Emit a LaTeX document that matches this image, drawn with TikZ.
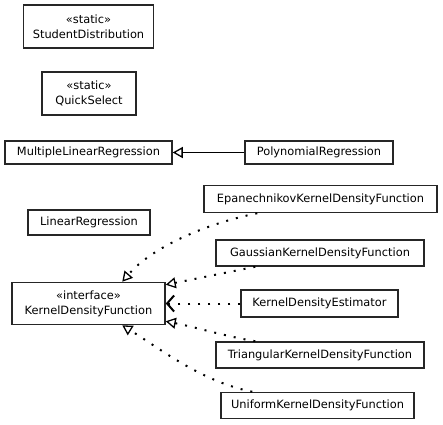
\documentclass[tikz,border=0pt]{standalone}
\usepackage{fontspec}
\setmainfont{DejaVu Sans}
\usetikzlibrary{arrows.meta,calc}
\begin{document}
\begin{tikzpicture}[x=1pt,y=-1pt,
  box/.style={draw=black!85,line width=1.5pt,rectangle,inner sep=0pt,align=center,
    font=\fontsize{11.4}{15}\selectfont},
  gen/.style={line width=1.6pt,-{Triangle[open,length=10pt,width=11pt,line width=1.3pt]}},
  real/.style={gen,line width=2pt,dash pattern=on 2pt off 8pt},
  dep/.style={line width=2pt,dash pattern=on 2pt off 8pt,-{Straight Barb[length=7pt,width=16pt,line width=2pt]}}]
\useasboundingbox (0,0) rectangle (443,424);
\node[box,minimum width=130pt,minimum height=43pt] (sd) at (88.5,26.5) {«static»\\StudentDistribution};
\node[box,minimum width=94pt,minimum height=43pt] (qs) at (89,93.5) {«static»\\QuickSelect};
\node[box,minimum width=167pt,minimum height=23pt] (mlr) at (88.5,152.5) {MultipleLinearRegression};
\node[box,minimum width=148pt,minimum height=23pt] (poly) at (319,152.5) {PolynomialRegression};
\node[box,minimum width=233pt,minimum height=27pt] (epan) at (320.5,199) {EpanechnikovKernelDensityFunction};
\node[box,minimum width=122pt,minimum height=25pt] (lin) at (89,222.5) {LinearRegression};
\node[box,minimum width=208pt,minimum height=26pt] (gauss) at (320,253) {GaussianKernelDensityFunction};
\node[box,minimum width=153pt,minimum height=42pt] (kdf) at (88.5,303.5) {«interface»\\KernelDensityFunction};
\node[box,minimum width=157pt,minimum height=27pt] (est) at (319.5,303.5) {KernelDensityEstimator};
\node[box,minimum width=208pt,minimum height=26pt] (tri) at (320,355) {TriangularKernelDensityFunction};
\node[box,minimum width=193pt,minimum height=26pt] (uni) at (317.5,405.5) {UniformKernelDensityFunction};
% anchor points
\coordinate (epanS) at ($(epan.south west)+(54,0)$);
\coordinate (gaussS) at ($(gauss.south west)+(40,0)$);
\coordinate (triN) at ($(tri.north west)+(40,0)$);
\coordinate (uniN) at ($(uni.north west)+(32,0)$);
\coordinate (kdfT) at ($(kdf.north west)+(111,0)$);
\coordinate (kdfR1) at ($(kdf.north east)+(0,3)$);
\coordinate (kdfR3) at ($(kdf.south east)+(0,-4)$);
\coordinate (kdfB) at ($(kdf.south west)+(111,0)$);
\draw[gen] (poly.west) -- (mlr.east);
\draw[real] (epanS) .. controls +(-50,10) and +(30,-35) .. (kdfT);
\draw[real] (gaussS) .. controls +(-30,6) and +(30,-6) .. (kdfR1);
\draw[dep] (est.west) -- (kdf.east);
\draw[real] (triN) .. controls +(-30,-5) and +(30,6) .. (kdfR3);
\draw[real] (uniN) .. controls +(-50,-10) and +(40,25) .. (kdfB);
\end{tikzpicture}
\end{document}
